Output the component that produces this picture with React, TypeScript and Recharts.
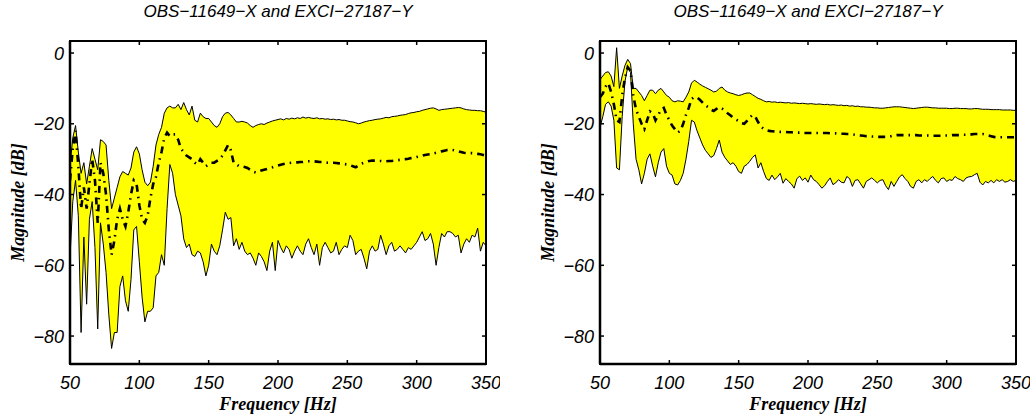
import { Area, ComposedChart, Line, ReferenceArea, XAxis, YAxis } from "recharts"

const FREQ = [
  50, 52, 54, 56, 58, 60, 62, 64, 66, 68, 70, 72, 74, 76, 78, 80, 82, 84, 86, 88,
  90, 92, 94, 96, 98, 100, 102, 104, 106, 108, 110, 112, 114, 116, 118, 120, 122, 124, 126, 128,
  130, 132, 134, 136, 138, 140, 142, 144, 146, 148, 150, 152, 154, 156, 158, 160, 162, 164, 166, 168,
  170, 172, 174, 176, 178, 180, 182, 184, 186, 188, 190, 192, 194, 196, 198, 200, 202, 204, 206, 208,
  210, 212, 214, 216, 218, 220, 222, 224, 226, 228, 230, 232, 234, 236, 238, 240, 242, 244, 246, 248,
  250, 252, 254, 256, 258, 260, 262, 264, 266, 268, 270, 272, 274, 276, 278, 280, 282, 284, 286, 288,
  290, 292, 294, 296, 298, 300, 302, 304, 306, 308, 310, 312, 314, 316, 318, 320, 322, 324, 326, 328,
  330, 332, 334, 336, 338, 340, 342, 344, 346, 348, 350,
]

const TITLE = "OBS−11649−X and EXCI−27187−Y"
const X_TICKS = [50, 100, 150, 200, 250, 300, 350]
const Y_TICKS = [-80, -60, -40, -20, 0]

// left panel
const leftUpper = [
  -32, -24, -20.5, -28, -34, -31, -37, -32, -27, -30,
  -33, -24.5, -25, -26, -36, -44, -41, -38, -35, -33.5,
  -34, -34.5, -32.5, -28, -26.5, -28.5, -33, -36.5, -37.5, -36.5,
  -32, -26, -23, -21, -17, -15.5, -15, -15.5, -15.5, -14.5,
  -16, -14, -16, -17.5, -15, -19, -19.5, -17, -18, -18.5,
  -18.5,
  -19.5, -20.5, -21, -20, -18, -17, -16.8, -17.5, -18.5, -19.5,
  -19.5, -19.3, -19.5, -19.8, -20.5, -21, -20.5, -20.2, -20, -20.2,
  -19.8, -19.5, -19.2, -19, -18.8, -18.6, -18.9, -18.5, -18.7, -18.4,
  -18.6, -18.3, -18.5, -18.1, -18.4, -18.2, -18.4, -18.5, -18.3, -18.6,
  -18.5, -18.7, -18.6, -18.8, -18.7, -18.9, -18.8, -19, -19, -19.2,
  -19.4, -19.5, -19.7, -20, -19.8, -19.5, -19.3, -19.1, -19, -18.8,
  -18.7, -18.6, -18.4, -18.2, -18.3, -18, -17.9, -17.8, -17.6, -17.5,
  -17.4, -17.1, -16.9, -16.8, -16.6, -16.5, -16.2, -16, -15.8, -15.6,
  -15.5, -15.8, -16.2, -16, -15.9, -15.8, -15.7, -15.6, -15.5, -15.4,
  -15.5, -15.8, -16, -16.1, -16.2, -16.2, -16.3, -16.3, -16.5, -16.7,
]

const leftLower = [
  -58, -42, -36, -46, -79, -52, -71, -47, -42, -55,
  -78, -48, -54, -62, -74, -83.5, -79, -79, -66, -63,
  -70, -73, -64, -50, -49, -59, -69, -76, -73, -73,
  -72, -63, -62, -57, -60, -44, -31.5, -34, -40, -43,
  -46, -52.5, -55, -54, -57, -57.5, -56, -56.5, -59, -63,
  -60,
  -54, -56, -57, -54.5, -50, -45, -47, -46.5, -54.5, -52.5,
  -55.5, -53.5, -56, -57, -56.5, -58, -60, -56.5, -57.5, -59,
  -61.5, -56, -53.5, -61.5, -53, -55, -56.5, -54.5, -55.5, -58,
  -56, -54.5, -56, -57, -54, -52.5, -55, -57, -54, -60,
  -55, -53.5, -55, -56.5, -56, -53.5, -57, -55.5, -54.5, -55,
  -51.5, -53, -57, -56, -55.5, -58, -61, -56, -54.5, -56,
  -55.5, -51.5, -54, -57, -54.5, -53.5, -56, -55.5, -54.5, -55.5,
  -56.5, -55, -55.5, -54.5, -53.5, -52, -50.5, -53, -52.5, -51,
  -54, -60, -55, -51, -52, -50.5, -50.5, -51, -52, -51.5,
  -56.5, -54, -52.5, -53.5, -51.5, -52, -49.5, -56, -53.5, -54.5,
]

const leftMean = [
  -36, -27, -22, -32, -44, -38, -44, -37, -30, -36,
  -48, -31, -34, -40, -50, -57, -53, -47, -44, -47,
  -49, -45, -40, -36, -37, -43, -47, -48, -46, -41,
  -37, -35, -31, -28, -24, -22.5, -23.5, -23, -23, -24.5,
  -27, -28, -29, -29.5, -30, -31, -31.5, -30, -31, -32,
  -31.5,
  -31, -31, -30.5, -30, -29, -27.5, -26, -27.5, -31, -31.5,
  -32, -32, -32.2, -32.5, -33, -33.5, -33.8, -33.5, -33.2, -33,
  -32.8, -32.5, -32.3, -32, -31.8, -31.6, -31.4, -31.2, -31.1, -31,
  -31, -30.9, -30.8, -30.8, -30.7, -30.6, -30.6, -30.6, -30.7, -30.8,
  -30.8, -30.9, -31, -31, -31, -31.1, -31.2, -31.3, -31.4, -31.5,
  -31.7, -32, -32.3, -31.8, -31.3, -31, -30.7, -30.5, -30.4, -30.4,
  -30.5, -30.5, -30.6, -30.6, -30.5, -30.5, -30.4, -30.3, -30.2, -30.1,
  -30, -29.9, -29.7, -29.6, -29.4, -29.2, -29, -28.8, -28.7, -28.6,
  -28.4, -28.2, -28, -27.8, -27.6, -27.4, -27.3, -27.4, -27.6, -27.8,
  -28, -28.2, -28.3, -28.3, -28.3, -28.4, -28.5, -28.6, -28.8, -29,
]

// right panel
const rightUpper = [
  -7.5, -6.5, -5.5, -5.3, -6.5, -9.5, 1.5, -10, -6.5, -3.5,
  -1.8, -3, -10, -10, -11, -12, -13.5, -12, -10.5, -10.5,
  -11.5, -10.5, -10, -11, -12, -12.5, -13.5, -13.8, -13.5, -13.6,
  -13.8, -12.5, -11, -8.5, -7.7, -8.2, -8.8, -9.3, -9.7, -10.1,
  -10.5, -11, -10.8, -10, -9.6, -10.5, -11, -11.3, -11.5, -11.8,
  -12,
  -11.8, -11.5, -11.3, -11.3, -11.8, -12.3, -12.8, -13.1, -13.5, -13.8,
  -13.7, -13.9, -13.8, -14, -13.9, -14, -14.1, -14, -14.2, -14.1,
  -14.2, -14.3, -14.2, -14.3, -14.4, -14.3, -14.4, -14.5, -14.4, -14.5,
  -14.6, -14.5, -14.7, -14.6, -14.7, -14.8, -14.7, -14.9, -14.8, -15,
  -14.9, -15.1, -15, -15.2, -15.2, -15.3, -15.3, -15.4, -15.5, -15.5,
  -15.6, -15.6, -15.5, -15.4, -15.3, -15.2, -15.2, -15.2, -15.3, -15.4,
  -15.5, -15.6, -15.7, -15.6, -15.5, -15.4, -15.3, -15.3, -15.4, -15.5,
  -15.5, -15.6, -15.6, -15.6, -15.6, -15.7, -15.7, -15.6, -15.6, -15.7,
  -15.7, -15.7, -15.8, -15.8, -15.7, -15.7, -15.8, -15.9, -15.9, -15.9,
  -16, -16, -16, -16, -16.1, -16.1, -16.1, -16.1, -16.2, -16.2,
]

const rightLower = [
  -21, -18, -14.5, -13.8, -15, -19, -32.5, -33, -18, -8,
  -4, -5.5, -20, -30, -33, -37, -34, -30, -28.5, -32,
  -35, -31, -28, -27, -32, -34, -34.5, -37, -37.3, -36,
  -34, -30, -25, -19, -19.5, -22, -24, -26, -27.5, -28.5,
  -29.5, -29, -27, -24.6, -28, -29.5, -30.5, -31.5, -31, -32,
  -33.5,
  -34, -32, -31.5, -30.6, -29.5, -28.8, -32.5, -31, -33.5, -35.5,
  -36, -34.5, -35.8, -35, -34, -36.8, -35.5, -36.3, -37, -38.2,
  -35.5, -34.8, -36, -35.3, -36.5, -34.5, -35.8, -36.3, -37.2, -38.2,
  -37.5, -36.3, -35.3, -37.2, -36.7, -35.8, -36.5, -36.7, -34.9, -35.5,
  -37.7, -36, -35.8, -37, -38.2, -36.3, -35.8, -35.3, -36, -36.7,
  -36, -35.8, -37.5, -38.6, -36.3, -37.7, -36.3, -35, -34.4, -35.5,
  -36.3, -37.7, -38.2, -36.3, -35.8, -36.7, -35.8, -36.3, -35.5, -34.9,
  -36, -36.7, -35.5, -35.3, -36.3, -35.8, -36, -34.9, -35.5, -35.8,
  -36.3, -35.3, -35, -34.9, -34.4, -34, -36.5, -37.3, -36.3, -36.7,
  -36, -36.7, -35.8, -36.3, -35.8, -36.5, -36.3, -35.8, -36.3, -36,
]

const rightMean = [
  -12.5, -11.5, -9.5, -8.5, -11, -14.5, -19, -19.5, -12, -7,
  -4, -5, -12, -16, -18, -20, -21.5, -19, -16.5, -17,
  -19, -17.5, -16, -15.5, -17.5, -19, -20.5, -21.5, -22.5, -22,
  -20, -17.5, -15.5, -13, -12.4, -12.6, -13.2, -14, -14.8, -15.3,
  -16, -16.4, -15.8, -15.3, -15.7, -16.3, -17, -17.6, -18.3, -18.8,
  -19.2,
  -19.8, -20, -19.2, -18.2, -17.5, -18, -19.5, -20.8, -21.4, -21.8,
  -22, -22.1, -22.2, -22.2, -22.3, -22.3, -22.3, -22.4, -22.4, -22.5,
  -22.5, -22.5, -22.6, -22.6, -22.6, -22.6, -22.6, -22.6, -22.6, -22.6,
  -22.6, -22.6, -22.7, -22.7, -22.7, -22.8, -22.8, -22.8, -22.9, -22.9,
  -23, -23.1, -23.2, -23.3, -23.4, -23.5, -23.5, -23.6, -23.6, -23.7,
  -23.7, -23.7, -23.7, -23.6, -23.5, -23.3, -23.2, -23.2, -23.2, -23.2,
  -23.2, -23.2, -23.2, -23.2, -23.3, -23.3, -23.3, -23.3, -23.4, -23.4,
  -23.4, -23.4, -23.4, -23.3, -23.3, -23.3, -23.2, -23.2, -23.2, -23.2,
  -23.1, -23.1, -23, -23, -22.9, -22.9, -22.9, -22.9, -23.1, -23.3,
  -23.5, -23.7, -23.8, -23.8, -23.8, -23.8, -23.8, -23.8, -23.8, -23.8,
]

const Y_DOMAIN = [-87.9, 3.4]

// plot box size inside each panel (500x419, margins below)
const PLOT_W = 416
const PLOT_H = 323

const tickFont = {
  fontFamily: '"Liberation Sans", Arial, sans-serif',
  fontStyle: "italic",
  fontSize: 18,
  fill: "#000",
}

const labelFont = {
  fontFamily: '"Liberation Serif", "Times New Roman", serif',
  fontStyle: "italic",
  fontWeight: "bold",
  fontSize: 18,
  fill: "#000",
}

const titleFont = {
  fontFamily: '"Liberation Sans", Arial, sans-serif',
  fontStyle: "italic",
  fontSize: 17,
  fill: "#000",
}

function fmt(v: number) {
  return v < 0 ? `−${Math.abs(v)}` : `${v}`
}

function buildRows(upper: number[], lower: number[], mean: number[]) {
  return FREQ.map((f, i) => ({
    f,
    hi: upper[i],
    lo: lower[i],
    mid: mean[i],
    band: [lower[i], upper[i]],
  }))
}

// bottom tick label plus inward tick marks on the bottom and top edges
function XTick(props: any) {
  const { x, y, payload } = props
  const top = y - PLOT_H
  return (
    <g>
      <line x1={x} y1={y} x2={x} y2={y - 4} stroke="#000" strokeWidth={1.5} />
      <line x1={x} y1={top} x2={x} y2={top + 4} stroke="#000" strokeWidth={1.5} />
      <text x={x} y={y + 25} textAnchor="middle" style={tickFont}>
        {fmt(payload.value)}
      </text>
    </g>
  )
}

// left tick label plus inward tick marks on the left and right edges
function YTick(props: any) {
  const { x, y, payload } = props
  const right = x + PLOT_W
  return (
    <g>
      <line x1={x} y1={y} x2={x + 4} y2={y} stroke="#000" strokeWidth={1.5} />
      <line x1={right} y1={y} x2={right - 4} y2={y} stroke="#000" strokeWidth={1.5} />
      <text x={x - 6} y={y + 6.5} textAnchor="end" style={tickFont}>
        {fmt(payload.value)}
      </text>
    </g>
  )
}

function XLabel(props: any) {
  const { viewBox } = props
  const cx = viewBox.x + viewBox.width / 2
  return (
    <g>
      <text x={cx} y={viewBox.y + 46} textAnchor="middle" style={labelFont}>
        Frequency [Hz]
      </text>
      <text x={cx} y={17} textAnchor="middle" style={titleFont}>
        {TITLE}
      </text>
    </g>
  )
}

function YLabel(props: any) {
  const { viewBox } = props
  const cx = viewBox.x + 18
  const cy = viewBox.y + viewBox.height / 2
  return (
    <text
      x={cx}
      y={cy}
      transform={`rotate(-90 ${cx} ${cy})`}
      textAnchor="middle"
      dominantBaseline="central"
      style={labelFont}
    >
      Magnitude [dB]
    </text>
  )
}

function Panel({ rows }: { rows: any[] }) {
  return (
    <ComposedChart width={500} height={419} data={rows} margin={{ top: 41, right: 14, bottom: 0, left: 0 }}>
      <Area
        dataKey="band"
        type="linear"
        fill="#ffff00"
        fillOpacity={1}
        stroke="none"
        activeDot={false}
        isAnimationActive={false}
      />
      <Line dataKey="hi" type="linear" stroke="#000" strokeWidth={1} dot={false} activeDot={false} isAnimationActive={false} />
      <Line dataKey="lo" type="linear" stroke="#000" strokeWidth={1} dot={false} activeDot={false} isAnimationActive={false} />
      <Line
        dataKey="mid"
        type="linear"
        stroke="#000"
        strokeWidth={2.6}
        strokeDasharray="7 5 1.5 5"
        dot={false}
        activeDot={false}
        isAnimationActive={false}
      />
      <ReferenceArea
        x1={50}
        x2={350}
        y1={Y_DOMAIN[0]}
        y2={Y_DOMAIN[1]}
        fill="none"
        fillOpacity={0}
        stroke="#000"
        strokeWidth={2}
        ifOverflow="visible"
      />
      <XAxis
        dataKey="f"
        type="number"
        domain={[50, 350]}
        ticks={X_TICKS}
        interval={0}
        allowDataOverflow
        height={55}
        tickLine={false}
        tickSize={0}
        tickMargin={0}
        tick={(p: any) => <XTick {...p} />}
        axisLine={{ stroke: "#000", strokeWidth: 2.5 }}
        label={(p: any) => <XLabel {...p} />}
      />
      <YAxis
        type="number"
        domain={Y_DOMAIN}
        ticks={Y_TICKS}
        interval={0}
        allowDataOverflow
        width={70}
        tickLine={false}
        tickSize={0}
        tickMargin={0}
        tick={(p: any) => <YTick {...p} />}
        axisLine={{ stroke: "#000", strokeWidth: 2.5 }}
        label={(p: any) => <YLabel {...p} />}
      />
    </ComposedChart>
  )
}

const leftRows = buildRows(leftUpper, leftLower, leftMean)
const rightRows = buildRows(rightUpper, rightLower, rightMean)

export default function App() {
  return (
    <div style={{ position: "absolute", left: 0, top: 0, width: 1035, height: 419, background: "#fff" }}>
      <div style={{ position: "absolute", left: 0, top: 0 }}>
        <Panel rows={leftRows} />
      </div>
      <div style={{ position: "absolute", left: 530, top: 0 }}>
        <Panel rows={rightRows} />
      </div>
    </div>
  )
}
